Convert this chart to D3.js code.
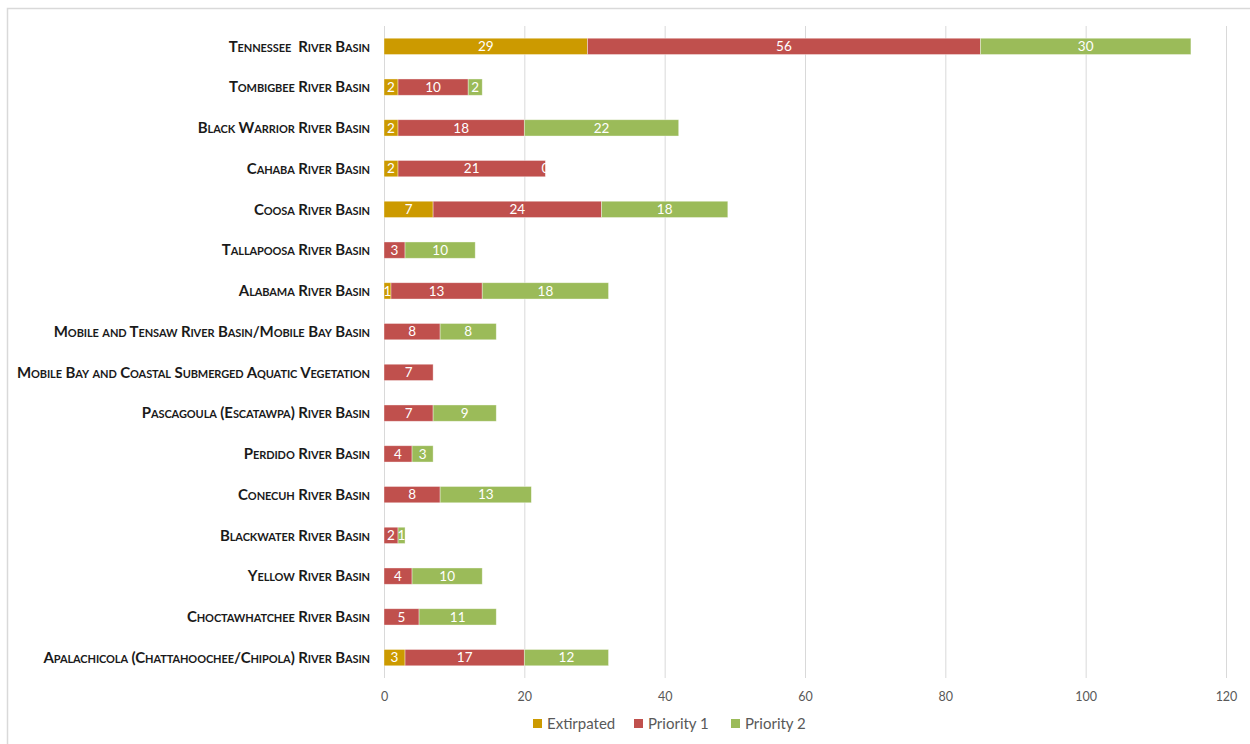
<!DOCTYPE html>
<html><head><meta charset="utf-8">
<script src="https://cdn.jsdelivr.net/npm/d3@7"></script>
<style>
body{margin:0;background:#fff;}
svg{display:block;}
</style></head>
<body><svg id="c" width="1250" height="744"></svg>
<script>
const categories = [
  "Tennessee  River Basin",
  "Tombigbee River Basin",
  "Black Warrior River Basin",
  "Cahaba River Basin",
  "Coosa River Basin",
  "Tallapoosa River Basin",
  "Alabama River Basin",
  "Mobile and Tensaw River Basin/Mobile Bay Basin",
  "Mobile Bay and Coastal Submerged Aquatic Vegetation",
  "Pascagoula (Escatawpa) River Basin",
  "Perdido River Basin",
  "Conecuh River Basin",
  "Blackwater River Basin",
  "Yellow River Basin",
  "Choctawhatchee River Basin",
  "Apalachicola (Chattahoochee/Chipola) River Basin"
];
const extirpated = [29, 2, 2, 2, 7, null, 1, null, null, null, null, null, null, null, null, 3];
const priority1  = [56, 10, 18, 21, 24, 3, 13, 8, 7, 7, 4, 8, 2, 4, 5, 17];
const priority2  = [30, 2, 22, 0, 18, 10, 18, 8, null, 9, 3, 13, 1, 10, 11, 12];
const seriesNames = ["Extirpated", "Priority 1", "Priority 2"];
const seriesColors = ["#CC9A00", "#C0504D", "#9BBB59"];
const xTicks = [0, 20, 40, 60, 80, 100, 120];

const svg = d3.select("#c");
svg.append("rect").attr("x",7.5).attr("y",8.5).attr("width",1260).attr("height",760)
  .attr("fill","none").attr("stroke","#d9d9d9").attr("stroke-width",1.5);

const pLeft = 384, pRight = 1226, pTop = 26, pBottom = 678;
const x = d3.scaleLinear().domain([0,120]).range([pLeft,pRight]);
const y = d3.scaleBand().domain(categories).range([pTop,pBottom]).paddingInner(0.6).paddingOuter(0.3);

// gridlines
svg.append("g").selectAll("line").data(xTicks).join("line")
  .attr("x1",d=>x(d)+0.5).attr("x2",d=>x(d)+0.5).attr("y1",pTop).attr("y2",pBottom)
  .attr("stroke","#d9d9d9").attr("stroke-width",1);

// x axis labels
const xAxis = d3.axisBottom(x).tickValues(xTicks).tickSize(0).tickPadding(0);
const gx = svg.append("g").attr("transform",`translate(0,${pBottom+14})`).call(xAxis);
gx.select(".domain").remove();
gx.selectAll("text").attr("fill","#595959").attr("font-family","Lato, 'Open Sans', sans-serif").attr("font-size",12.5);

// y labels
const yAxis = d3.axisLeft(y).tickSize(0).tickPadding(0);
const gy = svg.append("g").attr("transform",`translate(370,0)`).call(yAxis);
gy.select(".domain").remove();
gy.selectAll("text").attr("fill","#1a1a1a").attr("font-family","Lato, 'Open Sans', sans-serif")
  .attr("font-size",15).attr("font-weight","bold").style("font-variant","small-caps")
  .style("letter-spacing","-0.1px")
  .style("white-space","pre").attr("dy","0.35em");

// stacks
const rows = categories.map((c,i)=>({cat:c, vals:[extirpated[i],priority1[i],priority2[i]]}));
const segs = [];
rows.forEach(r=>{
  let acc = 0;
  r.vals.forEach((v,si)=>{
    if (v!==null){ segs.push({cat:r.cat, s:si, v, x0:acc, x1:acc+v}); acc+=v; }
  });
});
const defs = svg.append("defs");
rows.forEach((r,i)=>{
  const tot = r.vals.reduce((a,b)=>a+(b||0),0);
  defs.append("clipPath").attr("id","clip"+i).append("rect")
    .attr("x",x(0)).attr("y",y(r.cat)).attr("width",x(tot)-x(0)+0.5).attr("height",y.bandwidth());
});
svg.append("g").selectAll("rect").data(segs).join("rect")
  .attr("x",d=>x(d.x0)).attr("width",d=>x(d.x1)-x(d.x0))
  .attr("y",d=>y(d.cat)).attr("height",d=>y.bandwidth())
  .attr("fill",d=>seriesColors[d.s]).attr("stroke","#ffffff").attr("stroke-opacity",0.5).attr("stroke-width",0.75);
svg.append("g").selectAll("text").data(segs).join("text")
  .attr("x",d=>(x(d.x0)+x(d.x1))/2).attr("y",d=>y(d.cat)+y.bandwidth()/2).attr("dy","0.36em")
  .attr("text-anchor","middle").attr("fill","#ffffff").attr("font-family","Lato, 'Open Sans', sans-serif")
  .attr("font-size",13.5).attr("clip-path",d=>`url(#clip${categories.indexOf(d.cat)})`)
  .text(d=>d.v);

// legend
const legItems = [{x:533},{x:634},{x:731}];
const lg = svg.append("g");
seriesNames.forEach((n,i)=>{
  const g = lg.append("g").attr("transform",`translate(${legItems[i].x},724)`);
  g.append("rect").attr("x",0).attr("y",-5).attr("width",9).attr("height",9).attr("fill",seriesColors[i]);
  g.append("text").attr("x",14).attr("y",0).attr("dy","0.35em").attr("fill","#595959")
    .attr("font-family","Lato, 'Open Sans', sans-serif").attr("font-size",15).text(n);
});
</script></body></html>
